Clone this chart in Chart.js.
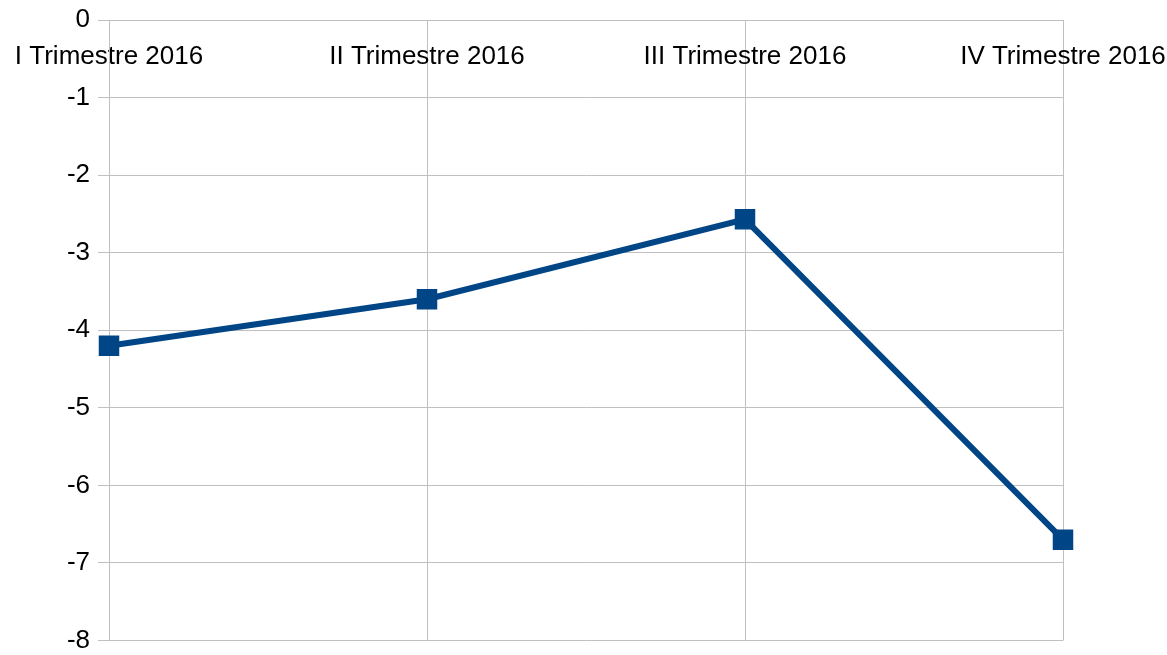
<!DOCTYPE html>
<html>
<head>
<meta charset="utf-8">
<script src="https://cdn.jsdelivr.net/npm/chart.js@4/dist/chart.umd.min.js"></script>
<style>
  html, body { margin: 0; padding: 0; background: #fff; }
  #wrap { width: 1167px; height: 655px; }
</style>
</head>
<body>
<div id="wrap"><canvas id="chart"></canvas></div>
<script>
// Data
const quarters = ["I Trimestre 2016", "II Trimestre 2016", "III Trimestre 2016", "IV Trimestre 2016"];
const values = [-4.2, -3.6, -2.57, -6.7];
const yMin = -8;
const yMax = 0;

const gridColor = "#c0c0c0";
const lineColor = "#004586";

// labels stick out of the plot, don't let them push the plot area around
function noLabelPadding(scale) {
  scale.paddingLeft = 0;
  scale.paddingRight = 0;
  scale.paddingTop = 0;
  scale.paddingBottom = 0;
}

const ctx = document.getElementById("chart").getContext("2d");
const chart = new Chart(ctx, {
  type: "line",
  data: {
    labels: quarters,
    datasets: [
      {
        data: values,
        borderColor: lineColor,
        backgroundColor: lineColor,
        borderWidth: 6,
        pointStyle: "rect",
        pointRadius: 14.5,
        pointBorderWidth: 0,
        tension: 0,
        fill: false,
      },
    ],
  },
  options: {
    responsive: true,
    maintainAspectRatio: false,
    animation: false,
    layout: {
      padding: { top: 20, right: 104, bottom: 8, left: 0 },
    },
    scales: {
      x: {
        position: { y: 0 },
        offset: false,
        afterFit: noLabelPadding,
        grid: { color: gridColor, drawTicks: false },
        border: { color: gridColor },
        ticks: {
          color: "#000",
          padding: 21,
          maxRotation: 0,
          autoSkip: false,
          font: { family: "Liberation Sans", size: 26 },
        },
      },
      y: {
        min: yMin,
        max: yMax,
        afterFit: (scale) => {
          noLabelPadding(scale);
          scale.width = 109;
        },
        grid: { color: gridColor, tickLength: 11 },
        border: { color: gridColor },
        ticks: {
          stepSize: 1,
          color: "#000",
          padding: 8,
          font: { family: "Liberation Sans", size: 26 },
        },
      },
    },
    plugins: {
      legend: { display: false },
      tooltip: { enabled: false },
    },
  },
});
</script>
</body>
</html>
